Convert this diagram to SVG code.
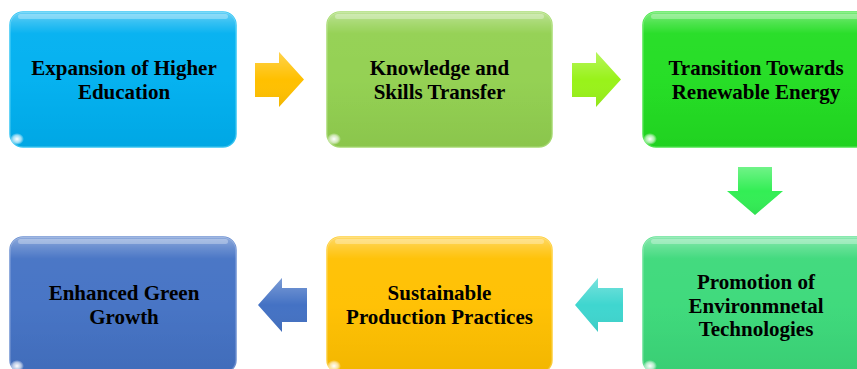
<svg xmlns="http://www.w3.org/2000/svg" width="857" height="369" viewBox="0 0 857 369">
  <defs>
    <!-- glossy sheen laid over each box -->
    <linearGradient id="sheen" x1="0" y1="0" x2="0" y2="1">
      <stop offset="0" stop-color="#fff" stop-opacity="0.4"/>
      <stop offset="0.08" stop-color="#fff" stop-opacity="0.2"/>
      <stop offset="0.16" stop-color="#fff" stop-opacity="0.04"/>
      <stop offset="1" stop-color="#fff" stop-opacity="0"/>
    </linearGradient>
    <linearGradient id="shade" x1="0" y1="0" x2="0" y2="1">
      <stop offset="0.5" stop-color="#000" stop-opacity="0"/>
      <stop offset="1" stop-color="#000" stop-opacity="0.05"/>
    </linearGradient>
    <radialGradient id="glint" cx="0.5" cy="0.5" r="0.5">
      <stop offset="0" stop-color="#fff" stop-opacity="1"/>
      <stop offset="0.6" stop-color="#fff" stop-opacity="0.6"/>
      <stop offset="1" stop-color="#fff" stop-opacity="0"/>
    </radialGradient>
    <linearGradient id="arrowSheen" x1="0" y1="0" x2="0" y2="1">
      <stop offset="0" stop-color="#fff" stop-opacity="0.3"/>
      <stop offset="0.5" stop-color="#fff" stop-opacity="0"/>
      <stop offset="1" stop-color="#000" stop-opacity="0.06"/>
    </linearGradient>
  </defs>
  <style>
    .box { stroke-width: 1.5; }
    .gloss { fill: url(#sheen); }
    .shade { fill: url(#shade); }
    .band { fill: #fff; opacity: 0.3; }
    .glint { fill: url(#glint); }
    .label { font-family: "Liberation Serif", "Times New Roman", serif; font-weight: bold; font-size: 21px; fill: #000; text-anchor: middle; }
    .arrow-gloss { fill: url(#arrowSheen); }
  </style>

  <!-- top row -->
  <g id="expansion-higher-education">
    <rect class="box" x="10" y="12" width="226" height="135" rx="13" fill="#00B0F0" stroke="#35C6F5"/>
    <rect class="gloss" x="10" y="12" width="226" height="135" rx="13"/>
    <rect class="shade" x="10" y="12" width="226" height="135" rx="13"/>
    <rect class="band" x="18" y="14" width="210" height="5" rx="2.5"/>
    <ellipse class="glint" cx="17" cy="139" rx="7" ry="6"/>
    <text class="label" x="124" y="75">Expansion of Higher</text>
    <text class="label" x="124" y="98.5">Education</text>
  </g>

  <g id="knowledge-skills-transfer">
    <rect class="box" x="327" y="12" width="225" height="135" rx="13" fill="#92D050" stroke="#A8DC72"/>
    <rect class="gloss" x="327" y="12" width="225" height="135" rx="13"/>
    <rect class="shade" x="327" y="12" width="225" height="135" rx="13"/>
    <rect class="band" x="335" y="14" width="209" height="5" rx="2.5"/>
    <ellipse class="glint" cx="334" cy="139" rx="7" ry="6"/>
    <text class="label" x="439.5" y="75">Knowledge and</text>
    <text class="label" x="439.5" y="98.5">Skills Transfer</text>
  </g>

  <g id="transition-renewable-energy">
    <rect class="box" x="643" y="12" width="226" height="135" rx="13" fill="#22DD22" stroke="#4CE84C"/>
    <rect class="gloss" x="643" y="12" width="226" height="135" rx="13"/>
    <rect class="shade" x="643" y="12" width="226" height="135" rx="13"/>
    <rect class="band" x="651" y="14" width="210" height="5" rx="2.5"/>
    <ellipse class="glint" cx="650" cy="139" rx="7" ry="6"/>
    <text class="label" x="756" y="75">Transition Towards</text>
    <text class="label" x="756" y="98.5">Renewable Energy</text>
  </g>

  <!-- bottom row -->
  <g id="promotion-environmental-technologies">
    <rect class="box" x="643" y="237" width="226" height="136" rx="13" fill="#3CD97A" stroke="#62E294"/>
    <rect class="gloss" x="643" y="237" width="226" height="136" rx="13"/>
    <rect class="shade" x="643" y="237" width="226" height="136" rx="13"/>
    <rect class="band" x="651" y="239" width="210" height="5" rx="2.5"/>
    <ellipse class="glint" cx="650" cy="366" rx="7" ry="6"/>
    <text class="label" x="756" y="289">Promotion of</text>
    <text class="label" x="756" y="312.5">Environmnetal</text>
    <text class="label" x="756" y="336">Technologies</text>
  </g>

  <g id="sustainable-production-practices">
    <rect class="box" x="327" y="237" width="225" height="136" rx="13" fill="#FFC000" stroke="#FFCF3A"/>
    <rect class="gloss" x="327" y="237" width="225" height="136" rx="13"/>
    <rect class="shade" x="327" y="237" width="225" height="136" rx="13"/>
    <rect class="band" x="335" y="239" width="209" height="5" rx="2.5"/>
    <ellipse class="glint" cx="334" cy="366" rx="7" ry="6"/>
    <text class="label" x="439.5" y="300">Sustainable</text>
    <text class="label" x="439.5" y="323.5">Production Practices</text>
  </g>

  <g id="enhanced-green-growth">
    <rect class="box" x="10" y="237" width="226" height="136" rx="13" fill="#4472C4" stroke="#6D91D2"/>
    <rect class="gloss" x="10" y="237" width="226" height="136" rx="13"/>
    <rect class="shade" x="10" y="237" width="226" height="136" rx="13"/>
    <rect class="band" x="18" y="239" width="210" height="5" rx="2.5"/>
    <ellipse class="glint" cx="17" cy="366" rx="7" ry="6"/>
    <text class="label" x="124" y="300">Enhanced Green</text>
    <text class="label" x="124" y="323.5">Growth</text>
  </g>

  <!-- block arrows between steps -->
  <g id="connectors">
    <g id="arrow-1-2">
      <path d="M255,63 H279 V52 L304,79.5 L279,107 V97 H255 Z" fill="#FFC000"/>
      <path d="M255,63 H279 V52 L304,79.5 L279,107 V97 H255 Z" class="arrow-gloss"/>
    </g>
    <g id="arrow-2-3">
      <path d="M572,63 H596 V52 L621,79.5 L596,107 V97 H572 Z" fill="#99F21A"/>
      <path d="M572,63 H596 V52 L621,79.5 L596,107 V97 H572 Z" class="arrow-gloss"/>
    </g>
    <g id="arrow-3-4">
      <path d="M738,167 H772 V191 H783 L755,215 L727,191 H738 Z" fill="#33EE55"/>
      <path d="M738,167 H772 V191 H783 L755,215 L727,191 H738 Z" class="arrow-gloss"/>
    </g>
    <g id="arrow-4-5">
      <path d="M623,288 H598 V278 L575,305 L598,332 V322 H623 Z" fill="#3FD6CF"/>
      <path d="M623,288 H598 V278 L575,305 L598,332 V322 H623 Z" class="arrow-gloss"/>
    </g>
    <g id="arrow-5-6">
      <path d="M307,288 H282 V278 L258,305 L282,332 V322 H307 Z" fill="#4472C4"/>
      <path d="M307,288 H282 V278 L258,305 L282,332 V322 H307 Z" class="arrow-gloss"/>
    </g>
  </g>
</svg>
